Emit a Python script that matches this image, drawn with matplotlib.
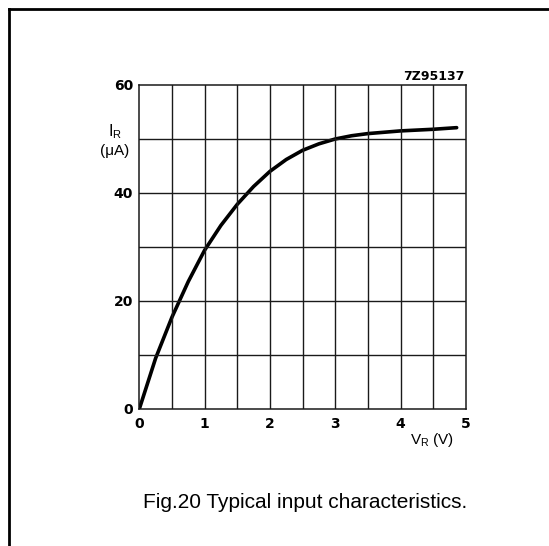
import matplotlib
matplotlib.use("Agg")
import matplotlib.pyplot as plt
from matplotlib.lines import Line2D

plt.rcParams['font.family'] = ['Liberation Sans', 'DejaVu Sans']
plt.rcParams['mathtext.default'] = 'regular'

# readings
vr = [0, 0.25, 0.5, 0.75, 1.0, 1.25, 1.5, 1.75, 2.0, 2.25, 2.5, 2.75,
      3.0, 3.25, 3.5, 4.0, 4.5, 4.86]
ir = [0, 9.4, 17.0, 23.6, 29.4, 34.0, 37.9, 41.2, 44.0, 46.2, 47.9, 49.1,
      50.0, 50.6, 51.0, 51.5, 51.8, 52.1]

x_ticks = [0, 1, 2, 3, 4, 5]
y_ticks = [0, 20, 40, 60]

W, H = 549, 546
fig = plt.figure(figsize=(W / 100, H / 100), dpi=100)
ax = fig.add_axes([139.3 / W, 1 - 409 / H, 326.5 / W, 324 / H])

ax.plot(vr, ir, color='black', lw=2.6, solid_capstyle='round',
        solid_joinstyle='round')

ax.set_xlim(0, 5)
ax.set_ylim(0, 60)
for gx in [i * 0.5 for i in range(1, 10)]:
    ax.axvline(gx, color='#1a1a1a', lw=1.0)
for gy in range(10, 60, 10):
    ax.axhline(gy, color='#1a1a1a', lw=1.0)
for s in ax.spines.values():
    s.set_linewidth(1.1)
    s.set_color('#1a1a1a')

tick_font = dict(family='DejaVu Sans', fontsize=10, fontweight='bold')
ax.set_xticks(x_ticks)
ax.set_yticks(y_ticks)
ax.set_xticklabels([str(v) for v in x_ticks], **tick_font)
ax.set_yticklabels([str(v) for v in y_ticks], **tick_font)
ax.tick_params(axis='x', length=0, pad=6)
ax.tick_params(axis='y', length=0, pad=4.5)

fig.text(115 / W, 1 - 132 / H, r'$I_R$', fontsize=11.5, ha='center', va='center')
fig.text(115 / W, 1 - 151 / H, '(\u03bcA)', fontsize=11, ha='center', va='center')
fig.text(432 / W, 1 - 440 / H, r'$V_R$ (V)', fontsize=11, ha='center', va='center')
fig.text(464 / W, 1 - 76 / H, '7Z95137', family='DejaVu Sans', fontsize=9,
         fontweight='bold', ha='right', va='center')
fig.text(305 / W, 1 - 503 / H, 'Fig.20 Typical input characteristics.',
         fontsize=15, ha='center', va='center')

# frame lines (top and left only)
fig.add_artist(Line2D([9 / W, 1], [1 - 9 / H, 1 - 9 / H], color='black', lw=2))
fig.add_artist(Line2D([9 / W, 9 / W], [1 - 9 / H, 0], color='black', lw=2))

fig.savefig('out.png', dpi=100, facecolor='white')
